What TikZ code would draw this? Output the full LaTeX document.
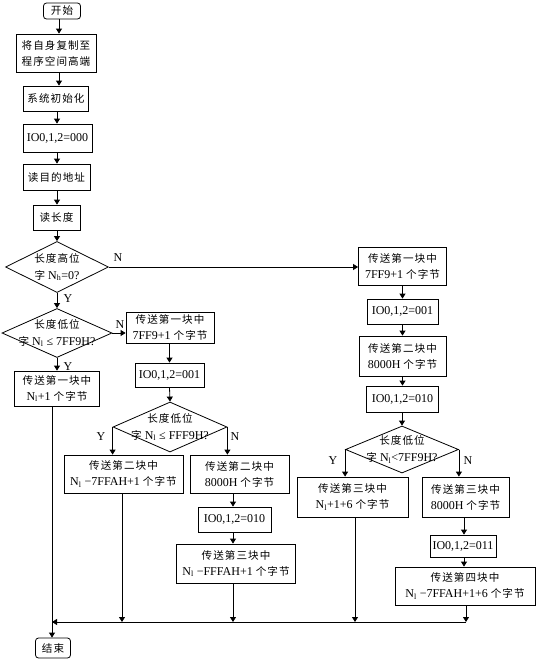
\documentclass[tikz,border=0pt]{standalone}
\usepackage{fontspec}
\setmainfont{Liberation Serif}
\newfontfamily\cjk{Noto Sans CJK SC}[Scale=0.88,LetterSpace=10]
\usetikzlibrary{shapes.geometric,arrows.meta}
\newcommand\zh[1]{{\cjk #1}}
\newcommand\Nl{N\textsubscript{l}}
\begin{document}
\begin{tikzpicture}[x=1pt,y=-1pt,
  box/.style={draw, line width=0.8pt, inner sep=0pt, align=center, font=\fontsize{12}{16}\selectfont},
  term/.style={box, rounded corners=3pt},
  dia/.style={draw, line width=0.8pt, diamond, inner sep=0pt},
  dtext/.style={inner sep=0pt, align=center, font=\fontsize{12}{17}\selectfont},
  lbl/.style={inner sep=0pt, font=\fontsize{12}{14}\selectfont},
  ln/.style={line width=0.8pt},
  arr/.style={line width=0.8pt, -{Triangle[width=6pt,length=5pt]}}]
\useasboundingbox (0,0) rectangle (539,659);
% left column
\node[term, minimum width=37pt, minimum height=16pt] (start) at (62,11) {\zh{开始}};
\node[box, minimum width=80pt, minimum height=38pt] (copy) at (56,53) {\zh{将自身复制至}\\\zh{程序空间高端}};
\node[box, minimum width=65pt, minimum height=25pt] (init) at (56,98.5) {\zh{系统初始化}};
\node[box, minimum width=69pt, minimum height=28pt] (io000) at (57.5,138) {IO0,1,2=000};
\node[box, minimum width=67pt, minimum height=26pt] (raddr) at (56.5,177) {\zh{读目的地址}};
\node[box, minimum width=47pt, minimum height=25pt] (rlen) at (56.5,217.5) {\zh{读长度}};
\node[dia, minimum width=103pt, minimum height=51pt] (d1) at (57,267) {};
\node[dtext] (d1t) at (d1) {\zh{长度高位}\\\zh{字} N\textsubscript{h}=0?};
\node[dia, minimum width=110pt, minimum height=49pt] (d2) at (57,333) {};
\node[dtext] (d2t) at (d2) {\zh{长度低位}\\\zh{字} \Nl{} ≤ 7FF9H?};
\node[box, minimum width=85pt, minimum height=35pt] (b1a) at (57,388.5) {\zh{传送第一块中}\\\Nl+1 \zh{个字节}};
% middle column
\node[box, minimum width=88pt, minimum height=31pt] (b1m) at (170,327.5) {\zh{传送第一块中}\\7FF9+1 \zh{个字节}};
\node[box, minimum width=69pt, minimum height=24pt] (io001m) at (169.5,375) {IO0,1,2=001};
\node[dia, minimum width=114pt, minimum height=50pt] (d3) at (170,427) {};
\node[dtext] (d3t) at (d3) {\zh{长度低位}\\\zh{字} \Nl{} ≤ FFF9H?};
\node[box, minimum width=119pt, minimum height=38pt] (b2a) at (123.5,474) {\zh{传送第二块中}\\\Nl{} −7FFAH+1 \zh{个字节}};
\node[box, minimum width=99pt, minimum height=38pt] (b2b) at (239.5,474) {\zh{传送第二块中}\\8000H \zh{个字节}};
\node[box, minimum width=73pt, minimum height=25pt] (io010m) at (234.5,519.5) {IO0,1,2=010};
\node[box, minimum width=119pt, minimum height=39pt] (b3m) at (236,563.5) {\zh{传送第三块中}\\\Nl{} −FFFAH+1 \zh{个字节}};
% right column
\node[box, minimum width=88pt, minimum height=38pt] (b1r) at (402.5,266) {\zh{传送第一块中}\\7FF9+1 \zh{个字节}};
\node[box, minimum width=71pt, minimum height=25pt] (io001r) at (402.5,311.5) {IO0,1,2=001};
\node[box, minimum width=87pt, minimum height=40pt] (b2r) at (402.5,356) {\zh{传送第二块中}\\8000H \zh{个字节}};
\node[box, minimum width=72pt, minimum height=26pt] (io010r) at (402.5,399) {IO0,1,2=010};
\node[dia, minimum width=113pt, minimum height=47pt] (d4) at (402,449.5) {};
\node[dtext] (d4t) at (d4) {\zh{长度低位}\\\zh{字} \Nl{}<7FF9H?};
\node[box, minimum width=111pt, minimum height=40pt] (b3a) at (352.5,497) {\zh{传送第三块中}\\\Nl+1+6 \zh{个字节}};
\node[box, minimum width=87pt, minimum height=40pt] (b3b) at (465.5,497) {\zh{传送第三块中}\\8000H \zh{个字节}};
\node[box, minimum width=66pt, minimum height=22pt] (io011) at (463,546) {IO0,1,2=011};
\node[box, minimum width=140pt, minimum height=38pt] (b4) at (465,586) {\zh{传送第四块中}\\\Nl{} −7FFAH+1+6 \zh{个字节}};
% end
\node[term, minimum width=35pt, minimum height=20pt] (end) at (53,648) {\zh{结束}};
% labels
\node[lbl] (lN1) at (118,258) {N};
\node[lbl] (lY1) at (68,299) {Y};
\node[lbl] (lN2) at (120,325) {N};
\node[lbl] (lY2) at (68,367) {Y};
\node[lbl] (lY3) at (101,437) {Y};
\node[lbl] (lN3) at (235,437) {N};
\node[lbl] (lY4) at (333,461) {Y};
\node[lbl] (lN4) at (468,461) {N};
% helper coordinates
\coordinate (ax) at (57,0);
\coordinate (sx) at (59,0);
\coordinate (lx) at (52,0);
\coordinate (my) at (0,622);
\coordinate (mx) at (233,0);
\coordinate (rx) at (464,0);
\coordinate (c2a) at (122,0);
\coordinate (c3a) at (355,0);
\coordinate (c4) at (466,0);
% left column connectors
\draw[arr] (start.south -| sx) -- (copy.north -| sx);
\draw[arr] (copy.south -| sx) -- (init.north -| sx);
\draw[arr] (init.south -| ax) -- (io000.north -| ax);
\draw[arr] (io000.south -| ax) -- (raddr.north -| ax);
\draw[arr] (raddr.south -| ax) -- (rlen.north -| ax);
\draw[arr] (rlen.south -| ax) -- (d1.north);
\draw[arr] (d1.south) -- (d2.north);
\draw[arr] (d2.south) -- (b1a.north);
\draw[arr] (d1.east) -- (d1.east -| b1r.west);
\draw[arr] (d2.east) -- (d2.east -| b1m.west);
% middle
\draw[arr] (b1m.south -| io001m) -- (io001m.north);
\draw[arr] (io001m.south) -- (d3.north);
\draw[arr] (d3.west) -- (d3.west |- b2a.north);
\draw[arr] (d3.east) -- (d3.east |- b2b.north);
\draw[arr] (b2b.south -| mx) -- (io010m.north -| mx);
\draw[arr] (io010m.south -| mx) -- (b3m.north -| mx);
% right
\draw[arr] (b1r.south) -- (io001r.north);
\draw[arr] (io001r.south) -- (b2r.north);
\draw[arr] (b2r.south) -- (io010r.north);
\draw[arr] (io010r.south -| d4) -- (d4.north);
\draw[arr] (d4.west) -- (d4.west |- b3a.north);
\draw[arr] (d4.east) -- (d4.east |- b3b.north);
\draw[arr] (b3b.south -| rx) -- (io011.north -| rx);
\draw[arr] (io011.south -| rx) -- (b4.north -| rx);
% merge
\draw[arr] (b2a.south -| c2a) -- (my -| c2a);
\draw[arr] (b3m.south -| mx) -- (my -| mx);
\draw[arr] (b3a.south -| c3a) -- (my -| c3a);
\draw[arr] (b4.south -| c4) -- (my -| c4);
\draw[arr] (my -| c4) -- (my -| lx);
\draw[arr] (b1a.south -| lx) -- (end.north -| lx);
\end{tikzpicture}
\end{document}
